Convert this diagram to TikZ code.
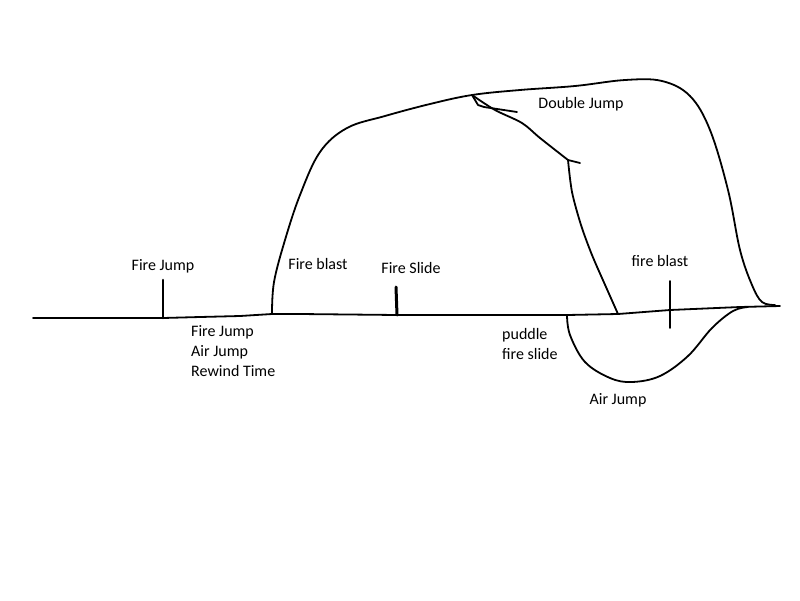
\documentclass[tikz,border=0pt]{standalone}
\usepackage{fontspec}
\setmainfont{Carlito}
\begin{document}
\begin{tikzpicture}[x=1pt,y=-1pt,
				ink/.style={draw=black, line width=1.8pt, line join=round, line cap=round},
				lbl/.style={inner sep=0, font=\fontsize{16}{20}\selectfont, text=black},
				lst/.style={lbl, align=left, anchor=north west}]
				\useasboundingbox (0,0) rectangle (800,600);
				
				% junctions
				\coordinate (start) at (33,318);
				\coordinate (jump) at (163,318);
				\coordinate (blastfoot) at (272,314);
				\coordinate (slide) at (397,315);
				\coordinate (puddle) at (567,315);
				\coordinate (drop) at (618,314);
				\coordinate (end) at (780,306);
				\coordinate (peak) at (472,95);
				\coordinate (knee) at (568,160);
				
				% ground
				\draw [ink] (start) -- (jump) -- (200,317) -- (240,316) -- (blastfoot) -- (300,314) -- (slide) -- (500,315) -- (puddle) -- (drop) -- (670,310) -- (740,307) -- (end);
				
				% ticks
				\draw [ink, line width=2.6pt] (163,280) -- (jump);
				\draw [ink, line width=3pt] (396,287) -- (slide);
				\draw [ink] (670,281) -- (670,328);
				
				% fire blast arc
				\draw [ink] plot [smooth, tension=0.6] coordinates {(blastfoot) (274,282) (285,240) (300,195) (320,152) (347,128) (385,116) (430,104) (peak) (520,90) (575,86) (625,80) (662,81) (690,96) (710,130) (728,190) (740,250) (752,285) (762,302) (775,305)};
				
				% double jump branch
				\draw [ink] plot [smooth, tension=0.5] coordinates {(peak) (495,110) (522,123) (540,138) (knee)};
				\draw [ink] (peak) -- (478,105) -- (484,107) -- (517,112);
				\draw [ink] (knee) -- (580,163);
				\draw [ink] plot [smooth, tension=0.5] coordinates {(knee) (572,192) (581,225) (592,255) (606,287) (drop)};
				
				% air jump dip
				\draw [ink] plot [smooth, tension=0.6] coordinates {(puddle) (570,335) (585,362) (610,378) (632,382) (660,376) (688,356) (712,328) (733,311) (748,307)};
				
				% labels
				\node [lbl] (firejump) at (163,266) {Fire Jump};
				\node [lbl] (fireblast) at (318,264) {Fire blast};
				\node [lbl] (fireslide) at (411,268) {Fire Slide};
				\node [lbl] (fireblasttwo) at (660,261) {fire blast};
				\node [lbl] (doublejump) at (581,104) {Double Jump};
				\node [lbl] (airjump) at (618,400) {Air Jump};
				\node [lst] (moves) at (191,325) {Fire Jump\\Air Jump\\Rewind Time};
				\node [lst] (puddlefire) at (502,328) {puddle\\fire slide};
\end{tikzpicture}
\end{document}
